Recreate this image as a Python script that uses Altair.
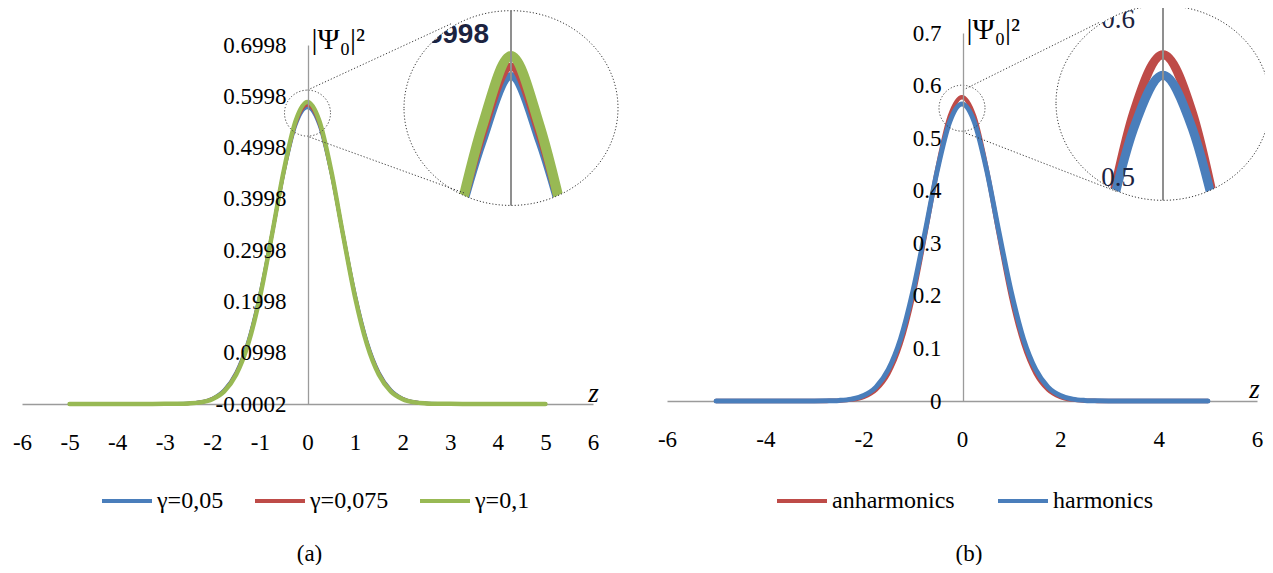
import altair as alt
import pandas as pd

SERIF = "'Liberation Serif', 'Times New Roman', Times, 'DejaVu Serif', serif"
SANS = "'Liberation Sans', Arial, 'DejaVu Sans', sans-serif"

# ---------------- values ----------------
z = [-5, -4.5, -4, -3.5, -3, -2.75, -2.5, -2.25, -2, -1.75, -1.5, -1.25, -1,
     -0.75, -0.5, -0.25, 0, 0.25, 0.5, 0.75, 1, 1.25, 1.5, 1.75, 2, 2.25,
     2.5, 2.75, 3, 3.5, 4, 4.5, 5]

# panel (a)
gamma_005 = [0, 0, 0, 0, 0.0001, 0.0003, 0.0011, 0.0037, 0.0106, 0.027, 0.061, 0.121, 0.213,
             0.329, 0.450, 0.543, 0.578, 0.543, 0.450, 0.329, 0.213, 0.121, 0.061, 0.027,
             0.0106, 0.0037, 0.0011, 0.0003, 0.0001, 0, 0, 0, 0]
gamma_0075 = [0, 0, 0, 0, 0.0001, 0.0003, 0.0010, 0.0033, 0.0099, 0.0257, 0.059, 0.118, 0.210,
              0.328, 0.452, 0.547, 0.583, 0.547, 0.452, 0.328, 0.210, 0.118, 0.059, 0.0257,
              0.0099, 0.0033, 0.0010, 0.0003, 0.0001, 0, 0, 0, 0]
gamma_01 = [0, 0, 0, 0, 0.0001, 0.0002, 0.0009, 0.0030, 0.0092, 0.0244, 0.0567, 0.116, 0.208,
            0.328, 0.454, 0.5515, 0.5885, 0.5515, 0.454, 0.328, 0.208, 0.116, 0.0567, 0.0244,
            0.0092, 0.0030, 0.0009, 0.0002, 0.0001, 0, 0, 0, 0]

# panel (b)
anharmonics = [0, 0, 0, 0, 0, 0.0002, 0.0007, 0.0026, 0.0080, 0.0218, 0.0521, 0.1086, 0.198,
               0.317, 0.442, 0.541, 0.578, 0.541, 0.442, 0.317, 0.198, 0.1086, 0.0521, 0.0218,
               0.0080, 0.0026, 0.0007, 0.0002, 0, 0, 0, 0, 0]
harmonics = [0, 0, 0, 0, 0.0001, 0.0003, 0.0011, 0.0036, 0.0103, 0.0264, 0.0596, 0.118, 0.208,
             0.322, 0.440, 0.531, 0.565, 0.531, 0.440, 0.322, 0.208, 0.118, 0.0596, 0.0264,
             0.0103, 0.0036, 0.0011, 0.0003, 0.0001, 0, 0, 0, 0]

series_a = ["γ=0,05", "γ=0,075", "γ=0,1"]
colors_a = ["#4A7EBB", "#BE4B48", "#98B954"]
series_b = ["anharmonics", "harmonics"]
colors_b = ["#BE4B48", "#4A7EBB"]

x_ticks_a = [-6, -5, -4, -3, -2, -1, 0, 1, 2, 3, 4, 5, 6]
y_ticks_a = [-0.0002, 0.0998, 0.1998, 0.2998, 0.3998, 0.4998, 0.5998, 0.6998]
x_ticks_b = [-6, -4, -2, 0, 2, 4, 6]
y_ticks_b = [0, 0.1, 0.2, 0.3, 0.4, 0.5, 0.6, 0.7]

captions = ["(a)", "(b)"]

# zoom-in annotations (data units)
zoom_a_center = [0.0, 0.567]          # small circle, main scale (a)
zoom_b_center = [0.0, 0.557]          # small circle, main scale (b)
big_a_center = [0.0, 0.5611]          # big circle, magnified scale (a)
big_b_center = [0.0, 0.5475]          # big circle, magnified scale (b)
conn_a_z = [0.0, 0.04]; conn_a_v = [0.612, 0.5204]
conn_a_z2 = [3.05, 3.30]; conn_a_v2 = [0.7426, 0.411]
conn_b_z = [0.02, 0.02]; conn_b_v = [0.5916, 0.5117]
conn_b_z2 = [2.81, 3.17]; conn_b_v2 = [0.721, 0.3976]
mag_labels_a = ["0.5998"]; mag_label_vals_a = [0.5998]
mag_labels_b = ["0.6", "0.5"]; mag_label_vals_b = [0.6, 0.5]
mag_a_ydom = [0.49166, 0.61797]
mag_b_ydom = [0.46076, 0.61266]

# ---------------- tables ----------------
def long_table(names, arrays):
    rows = []
    for name, vals in zip(names, arrays):
        for zz, vv in zip(z, vals):
            rows.append({"z": zz, "v": vv, "series": name})
    return pd.DataFrame(rows)

df_a = long_table(series_a, [gamma_005, gamma_0075, gamma_01])
df_b = long_table(series_b, [anharmonics, harmonics])

# ---------------- scales ----------------
x_a = alt.Scale(domain=[-6, 6], range=[14, 585], nice=False, zero=False)
y_a = alt.Scale(domain=[-0.0002, 0.6998], range=[396, 37], nice=False, zero=False)
x_b = alt.Scale(domain=[-6, 6], range=[659, 1249], nice=False, zero=False)
y_b = alt.Scale(domain=[0, 0.7], range=[393, 25], nice=False, zero=False)
mx_a = alt.Scale(domain=[-0.5, 0.5], range=[445.5, 560.5], nice=False, zero=False)
my_a = alt.Scale(domain=mag_a_ydom, range=[232, -8], nice=False, zero=False, clamp=True)
mx_b = alt.Scale(domain=[-0.5, 0.5], range=[1096, 1214], nice=False, zero=False)
my_b = alt.Scale(domain=mag_b_ydom, range=[232, -8], nice=False, zero=False, clamp=True)
c_a = alt.Scale(domain=series_a, range=colors_a)
c_b = alt.Scale(domain=series_b, range=colors_b)

XEXPR = "(datum.value < 0 ? '-' : '') + format(abs(datum.value), 'd')"
common = dict(grid=False, ticks=False, tickSize=0, domainColor="#9b9b9b", domainWidth=1.3,
              labelFont=SERIF, labelFontSize=23, labelColor="black", labelFlush=False,
              labelOverlap=False, titleFont=SERIF, titleColor="black", titleFontWeight="normal")

ax_xa = alt.Axis(orient="bottom", offset=-161, values=x_ticks_a, labelExpr=XEXPR,
                 labelPadding=38, labelBaseline="middle", title="z", titleFontStyle="italic",
                 titleFontSize=27, titleX=585, titleY=-3, titleAlign="center",
                 titleBaseline="alphabetic", zindex=0, **common)
ax_ya = alt.Axis(orient="left", offset=-300, values=y_ticks_a,
                 labelExpr="(datum.value < 0 ? '-' : '') + format(abs(datum.value), '.4f')",
                 labelPadding=22, labelAlign="right", labelBaseline="middle",
                 title="|Ψ₀|²", titleAngle=0, titleAlign="left", titleBaseline="middle",
                 titleX=3, titleY=31, titleFontSize=30, zindex=1, **common)
ax_xb = alt.Axis(orient="bottom", offset=-164, values=x_ticks_b, labelExpr=XEXPR,
                 labelPadding=38, labelBaseline="middle", title="z", titleFontStyle="italic",
                 titleFontSize=27, titleX=1246, titleY=-4, titleAlign="center",
                 titleBaseline="alphabetic", zindex=0, **common)
ax_yb = alt.Axis(orient="left", offset=-955, values=y_ticks_b,
                 labelExpr="datum.value == 0 ? '0' : format(datum.value, '.1f')",
                 labelPadding=22, labelAlign="right", labelBaseline="middle",
                 title="|Ψ₀|²", titleAngle=0, titleAlign="left", titleBaseline="middle",
                 titleX=3, titleY=21, titleFontSize=30, zindex=1, **common)

leg_common = dict(orient="none", direction="horizontal", symbolType="stroke", symbolSize=2500,
                  symbolStrokeWidth=4, labelFont=SERIF, labelFontSize=24, labelColor="black",
                  labelOffset=3, padding=0)
leg_a = alt.Legend(legendX=92, legendY=466, columns=3, columnPadding=23, **leg_common)
leg_b = alt.Legend(legendX=767, legendY=466, columns=2, columnPadding=35, **leg_common)


def lines(df, name, sx, sy, axx, axy, cs, leg, width, interp="monotone", mag=False):
    ch = alt.Chart(df).transform_filter(alt.datum.series == name)
    if mag:
        ch = ch.transform_filter("abs(datum.z) <= 0.5")
    return ch.mark_line(strokeWidth=width, interpolate=interp, strokeCap="round").encode(
        x=alt.X("z:Q", scale=sx, axis=axx),
        y=alt.Y("v:Q", scale=sy, axis=axy),
        color=alt.Color("series:N", scale=cs, legend=leg, title=None),
    )


def small_circle(center, sx, sy, axx, axy):
    return alt.Chart(pd.DataFrame({"z": [center[0]], "v": [center[1]]})).mark_point(
        shape="circle", size=2116, filled=False, color="#3a3a3a", strokeWidth=1,
        strokeDash=[1.2, 2], opacity=1).encode(
        x=alt.X("z:Q", scale=sx, axis=axx), y=alt.Y("v:Q", scale=sy, axis=axy))


def caption(text, sx, axx, dx):
    return alt.Chart(pd.DataFrame({"z": [0], "t": [text]})).mark_text(
        font=SERIF, fontSize=23, color="black", baseline="middle", align="center", dx=dx).encode(
        x=alt.X("z:Q", scale=sx, axis=axx), y=alt.value(546), text="t:N")


panel_a = alt.layer(
    lines(df_a, series_a[0], x_a, y_a, ax_xa, ax_ya, c_a, leg_a, 3.5),
    lines(df_a, series_a[1], x_a, y_a, ax_xa, ax_ya, c_a, leg_a, 3.5),
    lines(df_a, series_a[2], x_a, y_a, ax_xa, ax_ya, c_a, leg_a, 4.5),
    small_circle(zoom_a_center, x_a, y_a, ax_xa, ax_ya),
    caption(captions[0], x_a, ax_xa, 2),
)
panel_b = alt.layer(
    lines(df_b, series_b[0], x_b, y_b, ax_xb, ax_yb, c_b, leg_b, 4.5),
    lines(df_b, series_b[1], x_b, y_b, ax_xb, ax_yb, c_b, leg_b, 5),
    small_circle(zoom_b_center, x_b, y_b, ax_xb, ax_yb),
    caption(captions[1], x_b, ax_xb, 7),
)

ELLIPSE = "M -1 0 A 1 0.91 0 1 1 1 0 A 1 0.91 0 1 1 -1 0 Z"
MASK = ("M -1.3 -1.4 L 1.45 -1.4 L 1.45 1.4 L -1.3 1.4 Z "
        "M -1 0 A 1 0.91 0 1 0 1 0 A 1 0.91 0 1 0 -1 0 Z")


def magnified(df, names, widths, sx, sy, cs, center, ydom, labels, label_vals, label_font,
              label_size, label_dx, label_weight):
    layers = [lines(df, n, sx, sy, None, None, cs, None, w, mag=True)
              for n, w in zip(names, widths)]
    layers.append(alt.Chart(pd.DataFrame({"z": [0], "v": [ydom[1]], "v2": [ydom[0]]}))
                  .mark_rule(color="#8f8f8f", strokeWidth=2)
                  .encode(x=alt.X("z:Q", scale=sx, axis=None),
                          y=alt.Y("v:Q", scale=sy, axis=None), y2="v2:Q"))
    layers.append(alt.Chart(pd.DataFrame({"z": [0] * len(labels), "v": label_vals, "t": labels}))
                  .mark_text(font=label_font, fontSize=label_size, color="#1c2340",
                             fontWeight=label_weight, align="right", baseline="middle",
                             dx=label_dx)
                  .encode(x=alt.X("z:Q", scale=sx, axis=None),
                          y=alt.Y("v:Q", scale=sy, axis=None), text="t:N"))
    cdf = pd.DataFrame({"z": [center[0]], "v": [center[1]]})
    layers.append(alt.Chart(cdf).mark_point(shape=MASK, size=45796, filled=True, color="white",
                                            opacity=1, strokeWidth=0)
                  .encode(x=alt.X("z:Q", scale=sx, axis=None), y=alt.Y("v:Q", scale=sy, axis=None)))
    layers.append(alt.Chart(cdf).mark_point(shape=ELLIPSE, size=45796, filled=False,
                                            color="#3a3a3a", strokeWidth=1, strokeDash=[1.2, 2],
                                            opacity=1)
                  .encode(x=alt.X("z:Q", scale=sx, axis=None), y=alt.Y("v:Q", scale=sy, axis=None)))
    return alt.layer(*layers)


mag_a = magnified(df_a, series_a, [8, 8, 10], mx_a, my_a, c_a, big_a_center, mag_a_ydom,
                  mag_labels_a, mag_label_vals_a, SANS, 28, -22, "bold")
mag_b = magnified(df_b, series_b, [9, 9], mx_b, my_b, c_b, big_b_center, mag_b_ydom,
                  mag_labels_b, mag_label_vals_b, SERIF, 27, -28, "normal")


def connectors(zs, vs, z2s, v2s, sx, sy):
    return alt.Chart(pd.DataFrame({"z": zs, "v": vs, "z2": z2s, "v2": v2s})).mark_rule(
        color="#3a3a3a", strokeWidth=1, strokeDash=[1.2, 2]).encode(
        x=alt.X("z:Q", scale=sx, axis=None), x2="z2:Q",
        y=alt.Y("v:Q", scale=sy, axis=None), y2="v2:Q")


conn_a = connectors(conn_a_z, conn_a_v, conn_a_z2, conn_a_v2, x_a, y_a)
conn_b = connectors(conn_b_z, conn_b_v, conn_b_z2, conn_b_v2, x_b, y_b)

chart = alt.layer(panel_a, panel_b, mag_a, mag_b, conn_a, conn_b).resolve_scale(
    x="independent", y="independent", color="independent"
).properties(
    width=1257, height=557, padding=0, autosize=alt.AutoSizeParams(type="none")
).configure_view(stroke=None)

chart.save("out.html", embed_options={"renderer": "svg", "actions": False})
